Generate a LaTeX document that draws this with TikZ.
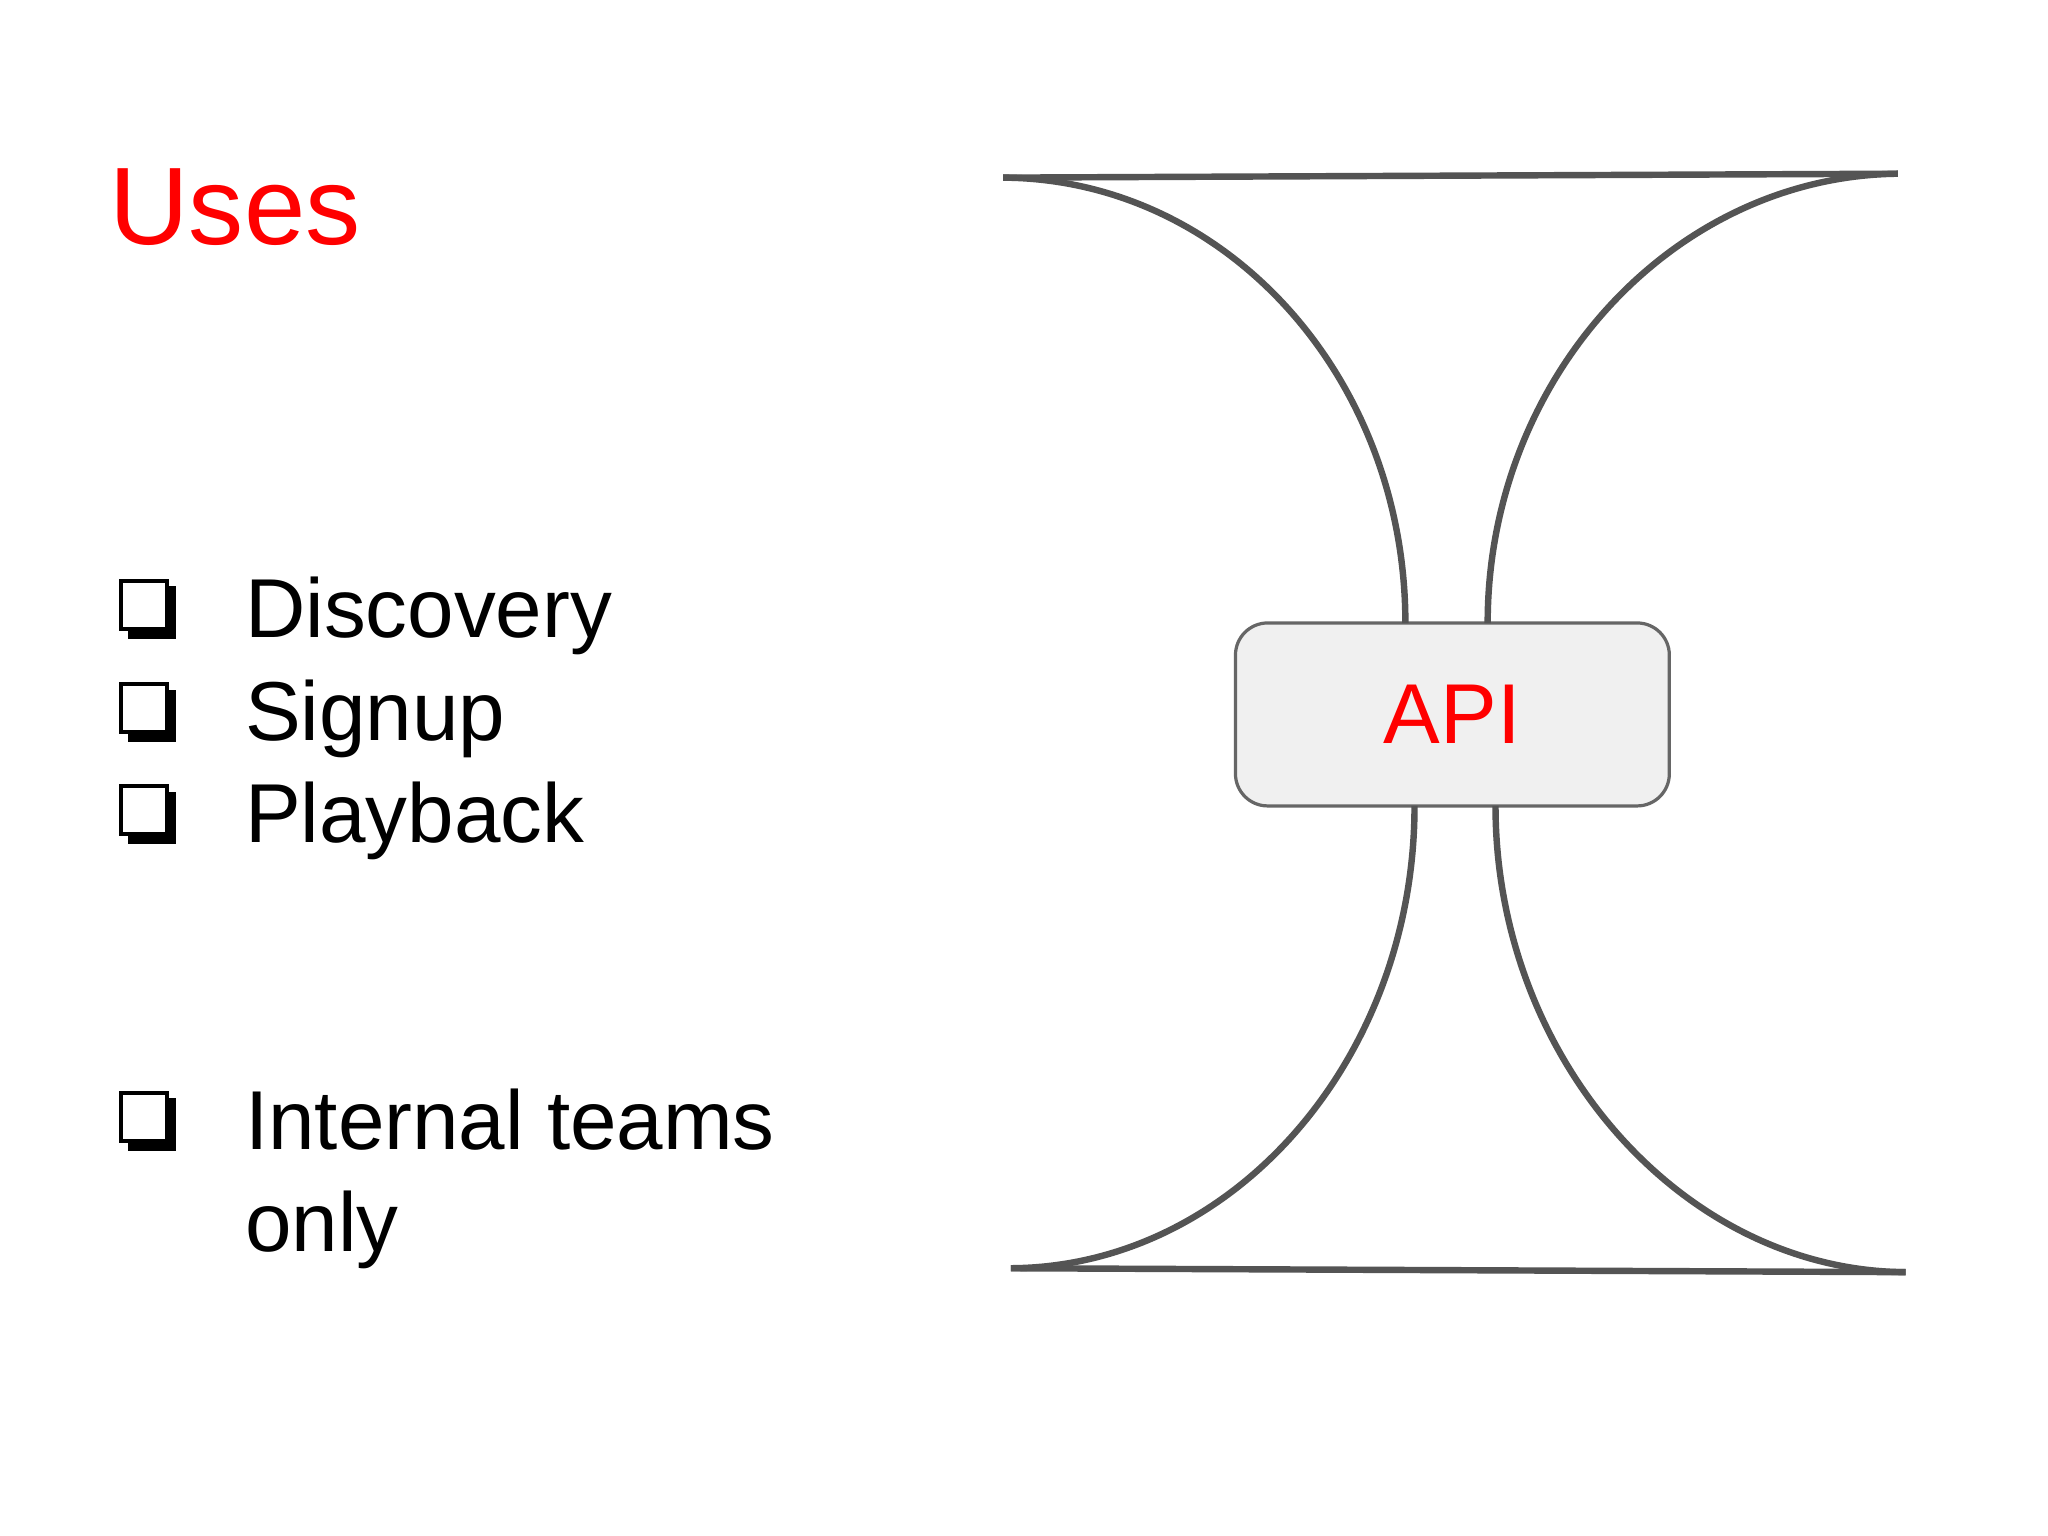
\documentclass[tikz,border=0pt]{standalone}
\usepackage{fontspec}
\setmainfont{Liberation Sans}
\begin{document}
\begin{tikzpicture}[x=0.01cm,y=-0.01cm,
  curve/.style={draw=black!67,line width=1.4pt},
  item/.style={anchor=base west,font=\fontsize{18.2pt}{22pt}\selectfont,inner sep=0},
  cbox/.style={minimum width=0.35cm,minimum height=0.37cm,inner sep=0,line width=0.9pt}]
\useasboundingbox (0,0) rectangle (1568,1176);
\fill[white] (0,0) rectangle (1568,1176);
\node[anchor=base west,text=red,inner sep=0,font=\fontsize{24pt}{28pt}\selectfont] (uses) at (83,187) {Uses};
\foreach \n/\y/\t in {d/488/Discovery,s/567/Signup,p/645/Playback,i/880/Internal teams}{
  \node[item] (\n) at (187,\y) {\t};
  \fill (98,\y-39) rectangle (135,\y+1);
  \node[cbox,draw=black,fill=white,anchor=north west] (b\n) at (91,\y-45) {};
}
\node[item] (o) at (187,958) {only};
\node[draw=black!60,fill=gray!12,rounded corners=7pt,minimum width=3.32cm,minimum height=1.4cm,inner sep=0,line width=0.7pt] (api) at (1112,547) {};
\node[text=red,font=\fontsize{18.5pt}{22pt}\selectfont] at (api) {API};
\coordinate (tl) at (768,136); \coordinate (tr) at (1453,133);
\coordinate (bl) at (774,971); \coordinate (br) at (1459,974);
\draw[curve] (tl) -- (tr);
\draw[curve] (bl) -- (br);
\draw[curve] (tl) .. controls (940,137) and (1076,290) .. (1076,477);
\draw[curve] (tr) .. controls (1280,135) and (1139,290) .. (1139,477);
\draw[curve] (bl) .. controls (945,970) and (1083,810) .. (1083,617);
\draw[curve] (br) .. controls (1288,973) and (1145,810) .. (1145,617);
\end{tikzpicture}
\end{document}
